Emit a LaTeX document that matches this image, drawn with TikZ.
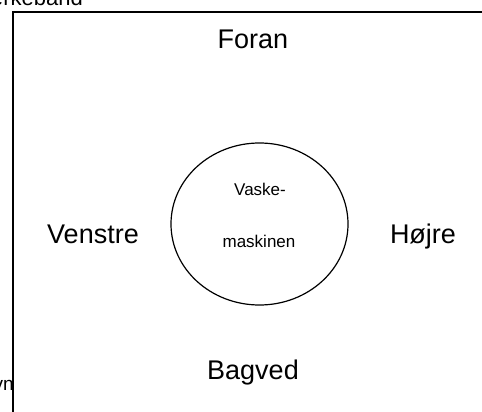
\documentclass[tikz,border=0pt]{standalone}
\usepackage{fontspec}
\setmainfont{Liberation Sans}
\usetikzlibrary{shapes.geometric}
\begin{document}
\begin{tikzpicture}[x=1pt,y=-1pt,
  big/.style={font=\fontsize{27}{30}\selectfont, inner sep=0pt, anchor=base},
  small/.style={font=\fontsize{17}{20}\selectfont, inner sep=0pt, anchor=base},
  edge/.style={line width=1.5pt}]
\useasboundingbox (0,0) rectangle (482,412);
\clip (0,0) rectangle (482,412);
\fill[white] (0,0) rectangle (482,412);
\coordinate (tl) at (13,12);
\coordinate (tr) at (490,12);
\coordinate (bl) at (13,420);
\draw[edge] (bl) -- (tl) -- (tr);
\node[font=\fontsize{22}{24}\selectfont, inner sep=0pt, anchor=base east] (top) at (83,6) {Mærkebånd};
\node[font=\fontsize{19}{22}\selectfont, inner sep=0pt, anchor=base east] (ovn) at (14,390) {Ovn};
\node[draw, ellipse, line width=1.2pt, minimum width=177pt, minimum height=162pt, inner sep=0pt] (wm) at (259.5,224) {};
\node[small] (v1) at (260,195) {Vaske-};
\node[small] (v2) at (259,247) {maskinen};
\node[big] (foran) at (253,49) {Foran};
\node[big] (venstre) at (93,243) {Venstre};
\node[big] (hojre) at (423,243) {Højre};
\node[big] (bagved) at (253,379) {Bagved};
\end{tikzpicture}
\end{document}
